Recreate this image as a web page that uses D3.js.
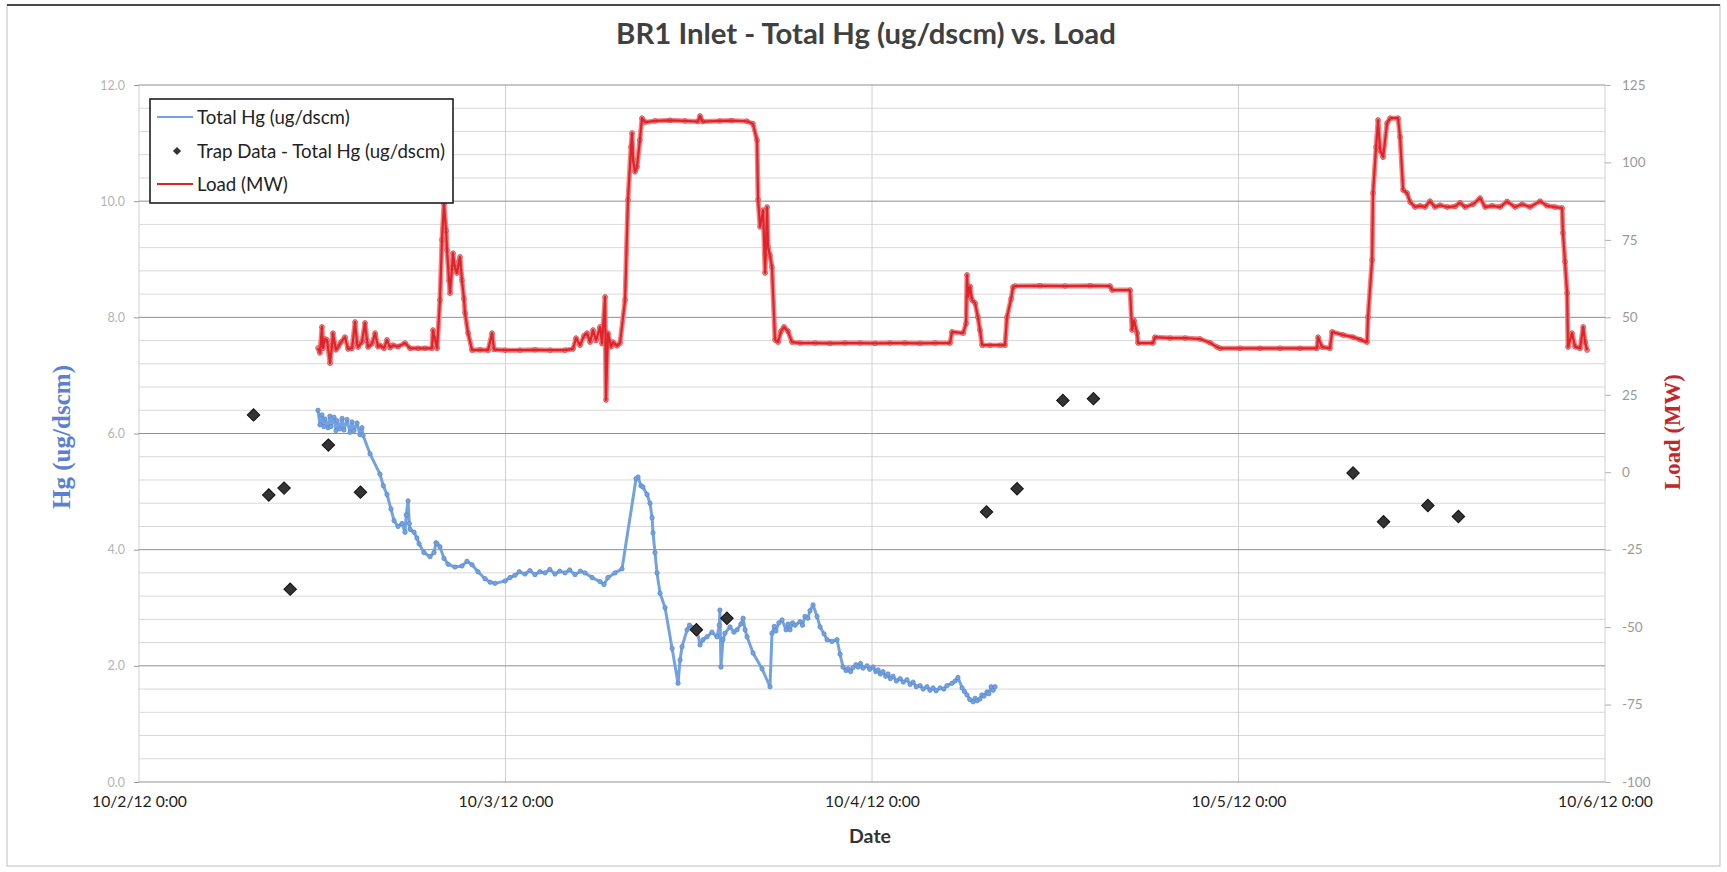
<!DOCTYPE html>
<html>
<head>
<meta charset="utf-8">
<title>BR1 Inlet - Total Hg (ug/dscm) vs. Load</title>
<script src="https://cdn.jsdelivr.net/npm/d3@7"></script>
<style>
  html, body { margin: 0; padding: 0; background: #fff; }
  svg { display: block; }
</style>
</head>
<body>
<svg id="chart" width="1727" height="872"></svg>
<script>
// ---- data -------------------------------------------------------------
// Time is given as hours after 10/2/12 0:00.
const chartTitle = "BR1 Inlet - Total Hg (ug/dscm) vs. Load";
const seriesNames = ["Total Hg (ug/dscm)", "Trap Data - Total Hg (ug/dscm)", "Load (MW)"];
const dayTicks = ["2012-10-02", "2012-10-03", "2012-10-04", "2012-10-05", "2012-10-06"];
const hgTicks = [0, 2, 4, 6, 8, 10, 12];
const loadTicks = [-100, -75, -50, -25, 0, 25, 50, 75, 100, 125];

// Continuous mercury monitor, [hour, ug/dscm]
const hgSeries = [
  [11.72,6.40],[11.85,6.15],[11.98,6.32],[12.10,6.12],[12.18,6.25],[12.38,6.10],[12.50,6.30],[12.57,6.12],
  [12.77,6.28],[12.90,6.05],[12.97,6.22],[13.16,6.08],[13.30,6.26],[13.42,6.06],[13.62,6.24],[13.82,6.02],
  [13.95,6.20],[14.08,6.05],[14.28,6.18],[14.47,5.98],[14.60,6.10],[14.67,5.97],[15.13,5.65],[15.78,5.30],
  [16.00,5.10],[16.24,4.95],[16.50,4.70],[16.70,4.50],[16.96,4.40],[17.22,4.45],[17.42,4.30],[17.50,4.60],
  [17.62,4.84],[17.70,4.45],[17.75,4.35],[18.01,4.30],[18.20,4.20],[18.34,4.10],[18.66,3.95],[19.06,3.88],
  [19.32,3.95],[19.45,4.12],[19.52,4.10],[19.71,4.05],[19.97,3.85],[20.24,3.75],[20.69,3.70],[21.15,3.72],
  [21.48,3.80],[21.81,3.74],[22.20,3.62],[22.66,3.50],[23.00,3.44],[23.31,3.42],[23.97,3.46],[24.30,3.52],
  [24.62,3.56],[24.90,3.62],[25.28,3.58],[25.60,3.64],[25.93,3.57],[26.25,3.62],[26.59,3.60],[26.90,3.66],
  [27.24,3.58],[27.55,3.63],[27.90,3.60],[28.20,3.65],[28.55,3.57],[28.90,3.63],[29.21,3.60],[29.67,3.52],
  [30.19,3.45],[30.45,3.40],[30.71,3.52],[31.17,3.60],[31.63,3.67],[32.55,5.22],[32.68,5.25],[32.87,5.10],
  [33.00,5.08],[33.27,4.95],[33.46,4.80],[33.60,4.55],[33.66,4.29],[33.79,3.95],[33.92,3.60],[34.12,3.25],
  [34.45,3.00],[34.91,2.30],[35.30,1.70],[35.43,2.10],[35.56,2.33],[35.89,2.62],[36.05,2.70],[36.21,2.66],
  [36.54,2.62],[36.74,2.36],[36.94,2.45],[37.20,2.50],[37.52,2.58],[37.85,2.50],[38.00,2.70],[38.04,2.96],
  [38.11,1.98],[38.24,2.45],[38.37,2.56],[38.70,2.67],[38.96,2.58],[39.16,2.62],[39.42,2.72],[39.56,2.82],
  [39.69,2.62],[39.82,2.50],[40.21,2.22],[40.80,1.95],[41.32,1.64],[41.45,2.56],[41.60,2.68],[41.71,2.60],
  [41.90,2.74],[42.11,2.79],[42.37,2.62],[42.50,2.72],[42.63,2.62],[42.80,2.74],[42.96,2.70],[43.29,2.76],
  [43.45,2.70],[43.61,2.85],[43.80,2.82],[43.94,2.95],[44.14,3.05],[44.40,2.85],[44.60,2.67],[44.86,2.55],
  [45.06,2.45],[45.38,2.42],[45.71,2.45],[45.91,2.20],[46.10,1.98],[46.30,1.92],[46.43,1.95],[46.60,1.90],
  [46.76,1.97],[46.95,2.02],[47.09,1.98],[47.25,2.04],[47.41,1.96],[47.68,2.00],[47.85,1.94],[48.07,1.98],
  [48.25,1.90],[48.40,1.93],[48.55,1.86],[48.72,1.90],[48.90,1.82],[49.05,1.86],[49.20,1.78],[49.38,1.82],
  [49.60,1.74],[49.84,1.78],[50.05,1.72],[50.29,1.76],[50.50,1.68],[50.69,1.72],[50.90,1.64],[51.15,1.66],
  [51.35,1.60],[51.60,1.64],[51.80,1.58],[52.00,1.62],[52.20,1.57],[52.46,1.62],[52.70,1.60],[52.91,1.66],
  [53.24,1.70],[53.45,1.74],[53.63,1.80],[53.90,1.62],[54.05,1.56],[54.22,1.50],[54.40,1.42],[54.62,1.38],
  [54.75,1.44],[54.88,1.40],[55.07,1.43],[55.20,1.50],[55.34,1.48],[55.53,1.55],[55.65,1.52],[55.80,1.64],
  [55.93,1.58],[56.06,1.64]
];

// Sorbent trap results, [hour, ug/dscm]
const trapSeries = [
  [7.5,6.32],[8.5,4.94],[9.5,5.06],[9.9,3.32],[12.4,5.80],[14.5,4.99],
  [36.5,2.62],[38.5,2.82],[55.5,4.65],[57.5,5.05],[60.5,6.57],[62.5,6.60],
  [79.5,5.32],[81.5,4.48],[84.4,4.76],[86.4,4.57]
];

// Unit load, [hour, MW]
const loadSeries = [
  [11.72,40.1],[11.85,38.5],[11.98,46.9],[12.05,40.0],[12.18,43.0],[12.31,42.7],[12.51,35.2],[12.64,41.0],
  [12.70,44.9],[12.90,39.5],[13.03,40.4],[13.23,42.0],[13.49,43.6],[13.69,39.8],[13.95,40.0],[14.15,48.5],
  [14.28,41.5],[14.34,40.4],[14.60,42.0],[14.80,48.2],[14.93,42.5],[15.00,40.4],[15.26,41.5],[15.46,44.9],
  [15.65,40.5],[15.78,41.0],[16.04,40.0],[16.24,42.7],[16.44,40.2],[16.63,41.0],[16.96,40.5],[17.42,41.7],
  [17.75,40.0],[18.27,40.0],[18.73,40.0],[19.19,40.0],[19.25,45.9],[19.38,43.0],[19.52,40.0],[19.71,55.6],
  [19.84,75.0],[19.97,86.6],[20.11,78.0],[20.17,71.7],[20.30,62.0],[20.37,57.8],[20.50,66.0],[20.56,70.7],
  [20.69,66.0],[20.82,64.3],[20.96,68.0],[21.02,69.5],[21.15,62.0],[21.28,56.0],[21.35,51.4],[21.55,44.9],
  [21.81,39.4],[22.33,39.5],[22.86,39.4],[23.12,44.9],[23.25,39.6],[23.97,39.4],[24.95,39.4],[25.93,39.5],
  [26.92,39.4],[27.90,39.4],[28.42,39.8],[28.62,43.3],[28.88,41.0],[29.14,44.0],[29.34,44.9],[29.54,42.0],
  [29.73,45.9],[29.93,42.5],[30.19,46.9],[30.32,41.5],[30.52,56.6],[30.58,23.3],[30.71,44.9],[30.91,40.5],
  [31.04,42.0],[31.30,40.8],[31.50,41.7],[31.83,55.6],[32.02,87.9],[32.22,105.0],[32.29,109.5],[32.35,100.8],
  [32.48,97.0],[32.61,98.5],[32.80,107.2],[32.94,114.3],[33.14,113.0],[33.79,113.4],[34.77,113.6],[35.76,113.4],
  [36.60,113.2],[36.74,115.0],[36.90,113.2],[38.04,113.4],[38.81,113.5],[39.80,113.3],[40.20,112.5],[40.47,107.2],
  [40.54,87.9],[40.67,79.2],[40.87,84.6],[41.00,64.3],[41.13,85.6],[41.19,72.7],[41.32,70.0],[41.45,66.2],
  [41.65,42.7],[41.85,42.0],[42.04,45.5],[42.24,46.9],[42.50,45.5],[42.76,42.0],[43.29,41.7],[44.27,41.7],
  [45.25,41.6],[46.23,41.7],[47.22,41.7],[48.20,41.6],[49.18,41.7],[50.16,41.7],[51.15,41.6],[52.13,41.7],
  [53.11,41.7],[53.24,45.3],[53.97,44.9],[54.16,48.0],[54.22,63.7],[54.29,56.6],[54.42,60.0],[54.55,55.6],
  [54.75,54.6],[54.94,50.0],[55.07,45.9],[55.21,41.0],[55.73,41.0],[56.39,41.0],[56.71,41.0],[56.84,50.1],
  [57.11,56.0],[57.24,59.8],[57.37,60.1],[59.00,60.2],[60.64,60.1],[62.28,60.2],[63.59,60.1],[63.72,58.8],
  [64.90,58.8],[65.03,45.9],[65.16,49.0],[65.36,44.9],[65.42,41.7],[66.40,41.7],[66.53,43.6],[67.52,43.3],
  [68.50,43.3],[69.48,43.0],[70.14,41.8],[70.60,40.4],[70.79,40.0],[72.10,40.0],[73.41,40.0],[74.72,40.0],
  [76.03,40.0],[77.14,40.0],[77.21,43.6],[77.47,40.4],[77.99,40.0],[78.13,45.3],[78.85,44.3],[79.50,43.6],
  [79.96,42.8],[80.42,42.0],[80.48,50.1],[80.75,68.5],[80.81,90.1],[81.01,105.0],[81.14,113.7],[81.27,104.0],
  [81.47,101.7],[81.73,112.7],[81.93,114.3],[82.45,114.3],[82.58,108.2],[82.78,91.1],[83.04,90.1],[83.24,87.2],
  [83.56,85.6],[83.89,86.0],[84.22,85.6],[84.54,87.5],[84.87,85.6],[85.20,86.2],[85.66,85.6],[86.18,85.8],
  [86.51,87.0],[86.84,85.6],[87.36,86.5],[87.82,88.5],[88.15,85.6],[88.61,86.0],[89.13,85.6],[89.59,87.4],
  [90.11,85.6],[90.57,86.5],[91.09,85.6],[91.75,87.5],[92.21,86.0],[92.73,85.6],[93.19,85.3],[93.25,77.2],
  [93.38,68.0],[93.52,57.8],[93.58,40.4],[93.84,44.9],[94.04,40.5],[94.37,40.0],[94.57,46.9],[94.70,42.0],
  [94.83,39.4]
];

// ---- layout -----------------------------------------------------------
const W = 1727, H = 872;
const plot = { left: 139, right: 1605, top: 85, bottom: 782 };
const colors = {
  hgLine: "#73a2e2", hgDot: "#5a86c9",
  loadLine: "#e0222a", loadDot: "#f08585",
  trap: "#333333",
  gridMajor: "#8f8f8f", gridMinor: "#d8d8d8", gridV: "#d0d0d0",
  hgTitle: "#5b80d2", loadTitle: "#c1272d"
};
const sans = "Lato, 'Open Sans', 'Noto Sans', sans-serif";
const serif = "'Liberation Serif', 'DejaVu Serif', serif";

const svg = d3.select("#chart");
const t0 = d3.timeParse("%Y-%m-%d")(dayTicks[0]);
const toDate = h => new Date(t0.getTime() + h * 3600 * 1000);
const days = dayTicks.map(d3.timeParse("%Y-%m-%d"));

const x = d3.scaleTime().domain([days[0], days[days.length - 1]]).range([plot.left, plot.right]);
const yHg = d3.scaleLinear().domain([0, 12]).range([plot.bottom, plot.top]);
const yLoad = d3.scaleLinear().domain([-100, 125]).range([plot.bottom, plot.top]);

// Shrink or grow a text element's font so its width matches a target.
function fitWidth(sel, target) {
  const w = sel.node().getComputedTextLength();
  const fs = parseFloat(sel.attr("font-size"));
  if (w > 0) sel.attr("font-size", (fs * target / w).toFixed(2));
  return parseFloat(sel.attr("font-size"));
}

// frame around the whole chart
svg.append("rect").attr("x", 7).attr("y", 5).attr("width", W - 14).attr("height", H - 11)
  .attr("fill", "#fff").attr("stroke", "#c9c9c9").attr("stroke-width", 1.2);
svg.append("line").attr("x1", 7).attr("x2", W - 7).attr("y1", 5).attr("y2", 5)
  .attr("stroke", "#4a4a4a").attr("stroke-width", 2);

// ---- grid -------------------------------------------------------------
const grid = svg.append("g");
const minorVals = d3.range(0, 12.001, 0.4).filter(v => Math.abs(v / 2 - Math.round(v / 2)) > 1e-6);
grid.selectAll(".minor").data(minorVals).join("line")
  .attr("x1", plot.left).attr("x2", plot.right)
  .attr("y1", d => yHg(d)).attr("y2", d => yHg(d))
  .attr("stroke", colors.gridMinor).attr("stroke-width", 1);
grid.selectAll(".vgrid").data(days).join("line")
  .attr("x1", d => x(d)).attr("x2", d => x(d))
  .attr("y1", plot.top).attr("y2", plot.bottom)
  .attr("stroke", colors.gridV).attr("stroke-width", 1);
grid.selectAll(".major").data(hgTicks).join("line")
  .attr("x1", plot.left).attr("x2", plot.right)
  .attr("y1", d => yHg(d)).attr("y2", d => yHg(d))
  .attr("stroke", colors.gridMajor).attr("stroke-width", 1);

// ---- axes -------------------------------------------------------------
const axLeft = svg.append("g").attr("transform", `translate(${plot.left},0)`)
  .call(d3.axisLeft(yHg).tickValues(hgTicks).tickFormat(d3.format(".1f")).tickSize(5).tickPadding(9));
axLeft.select(".domain").remove();
axLeft.selectAll(".tick line").attr("stroke", "#9a9a9a");
axLeft.selectAll("text").attr("font-family", sans).attr("font-size", 12.5).attr("fill", "#b4b4b4");

const axRight = svg.append("g").attr("transform", `translate(${plot.right},0)`)
  .call(d3.axisRight(yLoad).tickValues(loadTicks).tickFormat(d => String(d)).tickSize(6).tickPadding(11));
axRight.select(".domain").remove();
axRight.selectAll(".tick line").attr("stroke", "#b0b0b0");
axRight.selectAll("text").attr("font-family", sans).attr("font-size", 13.5).attr("fill", "#999");

const axBottom = svg.append("g").attr("transform", `translate(0,${plot.bottom})`)
  .call(d3.axisBottom(x).tickValues(days).tickFormat(d3.timeFormat("%-m/%-d/%y %-H:%M")).tickSize(0).tickPadding(14));
axBottom.select(".domain").remove();
const xLabels = axBottom.selectAll("text").attr("font-family", sans).attr("font-size", 14).attr("fill", "#222");
const xfs = fitWidth(d3.select(xLabels.nodes()[0]), 95);
xLabels.attr("font-size", xfs);

// ---- series -----------------------------------------------------------
const loadPts = loadSeries.map(([h, v]) => [toDate(h), v]);
const hgPts = hgSeries.map(([h, v]) => [toDate(h), v]);
const trapPts = trapSeries.map(([h, v]) => [toDate(h), v]);

const loadLine = d3.line().x(d => x(d[0])).y(d => yLoad(d[1]));
const hgLine = d3.line().x(d => x(d[0])).y(d => yHg(d[1]));

// load: salmon marker band under a red core line
const gLoad = svg.append("g");
gLoad.append("path").datum(loadPts).attr("d", loadLine)
  .attr("fill", "none").attr("stroke", colors.loadDot).attr("stroke-width", 5).attr("stroke-linejoin", "round");
gLoad.selectAll("circle").data(loadPts).join("circle")
  .attr("cx", d => x(d[0])).attr("cy", d => yLoad(d[1])).attr("r", 2.4)
  .attr("fill", colors.loadDot).attr("stroke", "#c93a3d").attr("stroke-width", 0.6);
gLoad.append("path").datum(loadPts).attr("d", loadLine)
  .attr("fill", "none").attr("stroke", colors.loadLine).attr("stroke-width", 2.2).attr("stroke-linejoin", "round");

// mercury monitor: light blue line with darker point markers
const gHg = svg.append("g");
gHg.append("path").datum(hgPts).attr("d", hgLine)
  .attr("fill", "none").attr("stroke", colors.hgLine).attr("stroke-width", 3).attr("stroke-linejoin", "round");
gHg.selectAll("circle").data(hgPts).join("circle")
  .attr("cx", d => x(d[0])).attr("cy", d => yHg(d[1])).attr("r", 2.2)
  .attr("fill", colors.hgLine).attr("stroke", colors.hgDot).attr("stroke-width", 0.7);

const diamond = d3.symbol().type(d3.symbolSquare).size(78);
svg.append("g").selectAll("path").data(trapPts).join("path")
  .attr("d", diamond)
  .attr("transform", d => `translate(${x(d[0])},${yHg(d[1])}) rotate(45)`)
  .attr("fill", colors.trap).attr("stroke", "#111").attr("stroke-width", 1);

// ---- titles -----------------------------------------------------------
const title = svg.append("text").attr("x", 866).attr("y", 44).attr("text-anchor", "middle")
  .attr("font-family", sans).attr("font-weight", "bold").attr("font-size", 22).attr("fill", "#404040")
  .text(chartTitle);
fitWidth(title, 500);

const dateLbl = svg.append("text").attr("x", 870).attr("y", 843).attr("text-anchor", "middle")
  .attr("font-family", sans).attr("font-weight", "bold").attr("font-size", 16).attr("fill", "#333")
  .text("Date");
fitWidth(dateLbl, 42);

const hgTitle = svg.append("text").attr("transform", "translate(70,437) rotate(-90)")
  .attr("text-anchor", "middle").attr("font-family", serif).attr("font-weight", "bold")
  .attr("font-size", 18).attr("fill", colors.hgTitle).text("Hg (ug/dscm)");
fitWidth(hgTitle, 144);

const loadTitle = svg.append("text").attr("transform", "translate(1680,432) rotate(-90)")
  .attr("text-anchor", "middle").attr("font-family", serif).attr("font-weight", "bold")
  .attr("font-size", 18).attr("fill", colors.loadTitle).text("Load (MW)");
fitWidth(loadTitle, 116);

// ---- legend -----------------------------------------------------------
const lg = svg.append("g");
lg.append("rect").attr("x", 150).attr("y", 99).attr("width", 303).attr("height", 104)
  .attr("fill", "#fff").attr("stroke", "#1e1e1e").attr("stroke-width", 1.6);
const rowY = [117, 151, 184];
const probe = lg.append("text").attr("font-family", sans).attr("font-size", 15).text(seriesNames[1]);
const legendFs = fitWidth(probe, 248);
probe.remove();
lg.selectAll(".lt").data(seriesNames).join("text")
  .attr("x", 197).attr("y", (d, i) => rowY[i] + legendFs * 0.36)
  .attr("font-family", sans).attr("font-size", legendFs).attr("fill", "#222")
  .text(d => d);
lg.append("line").attr("x1", 157).attr("x2", 193).attr("y1", rowY[0]).attr("y2", rowY[0])
  .attr("stroke", colors.hgLine).attr("stroke-width", 2);
lg.append("path").attr("d", d3.symbol().type(d3.symbolSquare).size(34))
  .attr("transform", `translate(177,${rowY[1]}) rotate(45)`).attr("fill", colors.trap);
lg.append("line").attr("x1", 157).attr("x2", 193).attr("y1", rowY[2]).attr("y2", rowY[2])
  .attr("stroke", colors.loadLine).attr("stroke-width", 2);
</script>
</body>
</html>
